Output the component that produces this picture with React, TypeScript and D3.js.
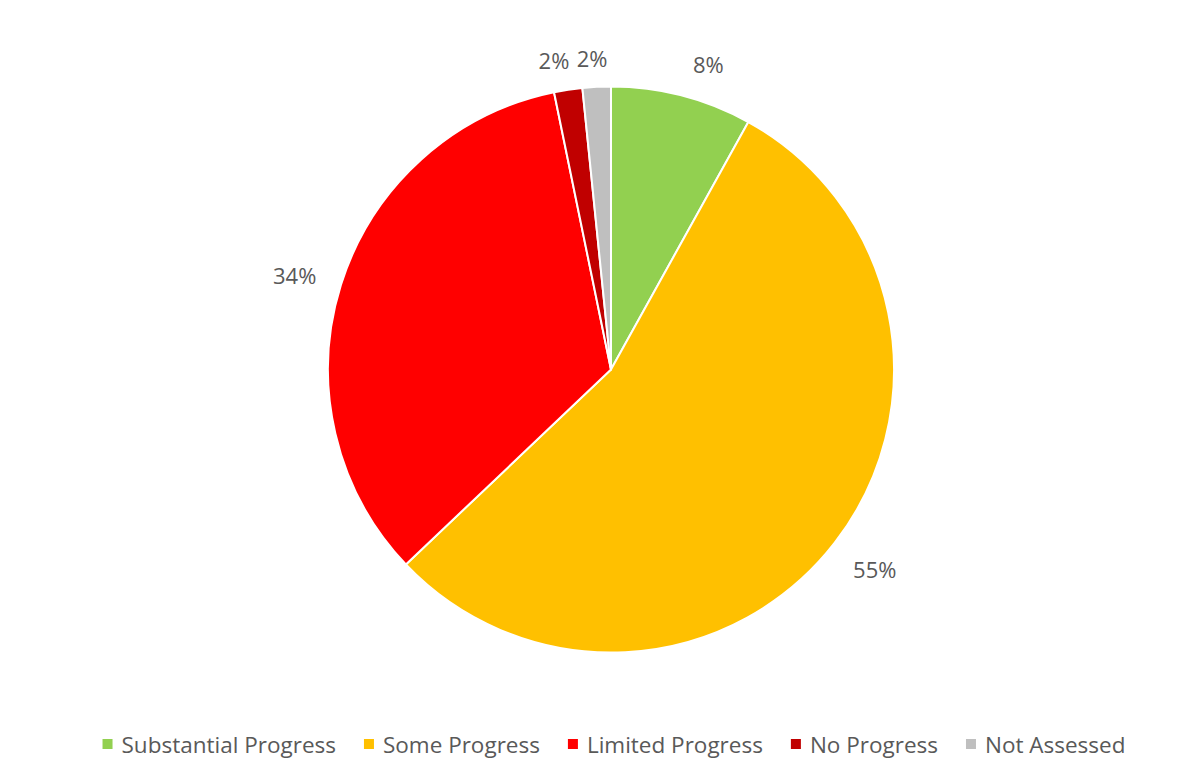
import React, { useEffect, useRef } from "react";
import * as d3 from "d3";

const categories = ["Substantial Progress", "Some Progress", "Limited Progress", "No Progress", "Not Assessed"];
const counts = [5, 34, 21, 1, 1];
const colors = ["#92D050", "#FFC000", "#FF0000", "#C00000", "#BFBFBF"];

const W = 1200;
const H = 774;

export default function App() {
  const ref = useRef<SVGSVGElement>(null);

  useEffect(() => {
    const svg = d3.select(ref.current);
    svg.selectAll("*").remove();
    const cx = 611, cy = 369.5, r = 283;
    const font = "'Open Sans', sans-serif";
    const total = d3.sum(counts);
    const pie = d3.pie<number>().sort(null).value((d) => d);
    const arcs = pie(counts);
    const arc = d3.arc<d3.PieArcDatum<number>>().innerRadius(0).outerRadius(r);

    const g = svg.append("g").attr("transform", `translate(${cx},${cy})`);
    g.selectAll("path")
      .data(arcs)
      .join("path")
      .attr("d", arc as any)
      .attr("fill", (_, i) => colors[i])
      .attr("stroke", "#fff")
      .attr("stroke-width", 2)
      .attr("stroke-linejoin", "round");

    // labels outside end
    const labelR = [321, 331, 330, 315, 312];
    const nudge = [0.055, -0.01, -0.015, -0.03, -0.01];
    g.selectAll("text.lbl")
      .data(arcs)
      .join("text")
      .attr("class", "lbl")
      .each(function (d, i) {
        const a = (d.startAngle + d.endAngle) / 2 + nudge[i];
        const rr = labelR[i];
        d3.select(this)
          .attr("x", rr * Math.sin(a))
          .attr("y", -rr * Math.cos(a));
      })
      .attr("text-anchor", "middle")
      .attr("dominant-baseline", "central")
      .attr("font-family", font)
      .attr("font-size", 22)
      .attr("fill", "#595959")
      .text((d) => `${Math.round((d.data / total) * 100)}%`);

    // legend
    const leg = svg.append("g");
    const items = leg
      .selectAll("g")
      .data(categories)
      .join("g");
    items
      .append("rect")
      .attr("width", 10)
      .attr("height", 10)
      .attr("y", -5)
      .attr("fill", (_, i) => colors[i]);
    const texts = items
      .append("text")
      .attr("x", 19)
      .attr("dominant-baseline", "central")
      .attr("font-family", font)
      .attr("font-size", 22.5)
      .attr("fill", "#595959")
      .text((d) => d);
    const widths: number[] = [];
    texts.each(function () {
      widths.push((this as SVGTextElement).getComputedTextLength());
    });
    const gap = 28;
    const itemW = widths.map((w) => 19 + w);
    const totalW = d3.sum(itemW) + gap * (itemW.length - 1);
    let x = 614 - totalW / 2;
    items.each(function (_, i) {
      d3.select(this).attr("transform", `translate(${x},744)`);
      x += itemW[i] + gap;
    });
  }, []);

  return (
    <svg ref={ref} width={W} height={H} style={{ display: "block", position: "absolute", left: 0, top: 0, background: "#fff" }} />
  );
}
